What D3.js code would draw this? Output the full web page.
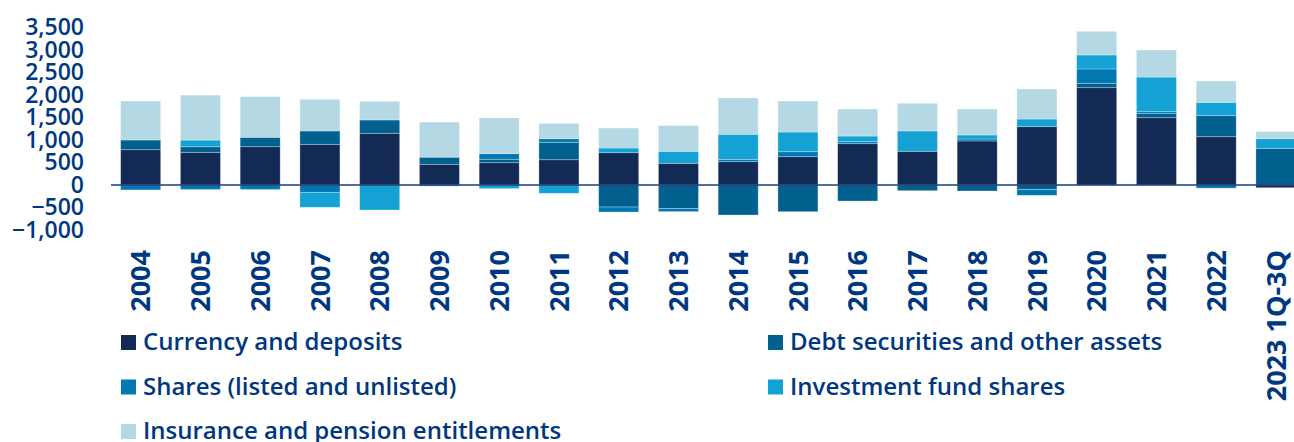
<!DOCTYPE html>
<html>
<head>
<meta charset="utf-8">
<script src="https://cdn.jsdelivr.net/npm/d3@7"></script>
<style>
  body { margin: 0; background: #fff; }
  text { font-family: 'Open Sans', sans-serif; fill: #003781; }
</style>
</head>
<body>
<div id="chart"></div>
<script>
// years on the x axis
const years = ['2004', '2005', '2006', '2007', '2008', '2009', '2010', '2011', '2012', '2013',
  '2014', '2015', '2016', '2017', '2018', '2019', '2020', '2021', '2022', '2023 1Q-3Q']

const seriesNames = ['Currency and deposits', 'Debt securities and other assets',
  'Shares (listed and unlisted)', 'Investment fund shares', 'Insurance and pension entitlements']

const currency = [784, 726, 851, 904, 1149, 460, 496, 562, 718, 482, 518, 629, 918, 749, 978, 1296, 2163, 1496, 1074, -60]
const debt = [216, 124, 209, 296, 296, 155, 76, 387, -490, -522, -667, -593, -356, -126, -133, -100, 98, 89, 467, 815]
const shares = [-110, -100, -100, -163, 0, 20, 124, 80, -111, -70, 53, 111, 44, 0, 44, -130, 318, 44, -70, 0]
const fundShares = [0, 148, 0, -333, -556, -25, -80, -185, 104, 267, 556, 437, 126, 452, 89, 170, 311, 770, 296, 215]
const insurance = [867, 1000, 904, 704, 415, 763, 793, 342, 444, 570, 807, 689, 600, 615, 578, 667, 526, 600, 474, 155]

const yTicks = [-1000, -500, 0, 500, 1000, 1500, 2000, 2500, 3000, 3500]

const colors = ['#132a54', '#02608f', '#0178b2', '#14a1d4', '#b4d9e4']

const width = 1294
const height = 442

const rows = years.map((year, i) => ({
  year,
  [seriesNames[0]]: currency[i],
  [seriesNames[1]]: debt[i],
  [seriesNames[2]]: shares[i],
  [seriesNames[3]]: fundShares[i],
  [seriesNames[4]]: insurance[i]
}))

const xScale = d3.scaleBand()
  .domain(years)
  .range([110.8, 1305.8])
  .paddingInner(0.33)
  .paddingOuter(0.165)

const yScale = d3.scaleLinear()
  .domain([-1000, 3500])
  .range([230, 27.5])

const color = d3.scaleOrdinal().domain(seriesNames).range(colors)

const svg = d3.select('#chart').append('svg')
  .attr('width', width)
  .attr('height', height)

const stacked = d3.stack()
  .keys(seriesNames)
  .offset(d3.stackOffsetDiverging)(rows)

svg.selectAll('.serie')
  .data(stacked)
  .enter().append('g')
  .attr('class', 'serie')
  .attr('fill', d => color(d.key))
  .selectAll('rect')
  .data(d => d.filter(p => p[1] !== p[0]))
  .enter().append('rect')
  .attr('x', d => xScale(d.data.year))
  .attr('y', d => yScale(d[1]))
  .attr('height', d => yScale(d[0]) - yScale(d[1]))
  .attr('width', xScale.bandwidth())
  .attr('stroke', 'rgba(255,255,255,0.35)')
  .attr('stroke-width', 0.8)

// zero line
svg.append('line')
  .attr('x1', 111)
  .attr('x2', width)
  .attr('y1', yScale(0))
  .attr('y2', yScale(0))
  .attr('stroke', '#1d3c78')
  .attr('stroke-width', 1.6)

// y axis, labels only
const yAxis = svg.append('g')
  .attr('transform', 'translate(84,0)')
  .call(d3.axisLeft(yScale).tickValues(yTicks).tickSize(0).tickPadding(0).tickFormat(d3.format(',')))
yAxis.select('.domain').remove()
yAxis.selectAll('text')
  .attr('fill', '#003781')
  .style('font-family', 'Open Sans')
  .style('font-size', '23px')
  .style('font-weight', 600)

// x axis labels, rotated
const xAxis = svg.append('g')
  .attr('transform', 'translate(0,250)')
  .call(d3.axisBottom(xScale).tickSize(0).tickPadding(0))
xAxis.select('.domain').remove()
xAxis.selectAll('text')
  .attr('fill', '#003781')
  .attr('transform', 'rotate(-90)')
  .attr('text-anchor', 'end')
  .attr('x', 0)
  .attr('y', 0)
  .attr('dy', '0.36em')
  .style('font-family', 'Open Sans')
  .style('font-size', '27px')
  .style('font-weight', 700)

// legend, two columns
const legend = svg.append('g')
  .selectAll('g')
  .data(seriesNames)
  .enter().append('g')
  .attr('transform', (d, i) => `translate(${i % 2 === 0 ? 121 : 768},${335 + Math.floor(i / 2) * 44.5})`)

legend.append('rect')
  .attr('width', 15)
  .attr('height', 15)
  .attr('fill', d => color(d))

legend.append('text')
  .attr('x', 22)
  .attr('y', 15)
  .style('font-size', '24px')
  .style('font-weight', 600)
  .text(d => d)
</script>
</body>
</html>
